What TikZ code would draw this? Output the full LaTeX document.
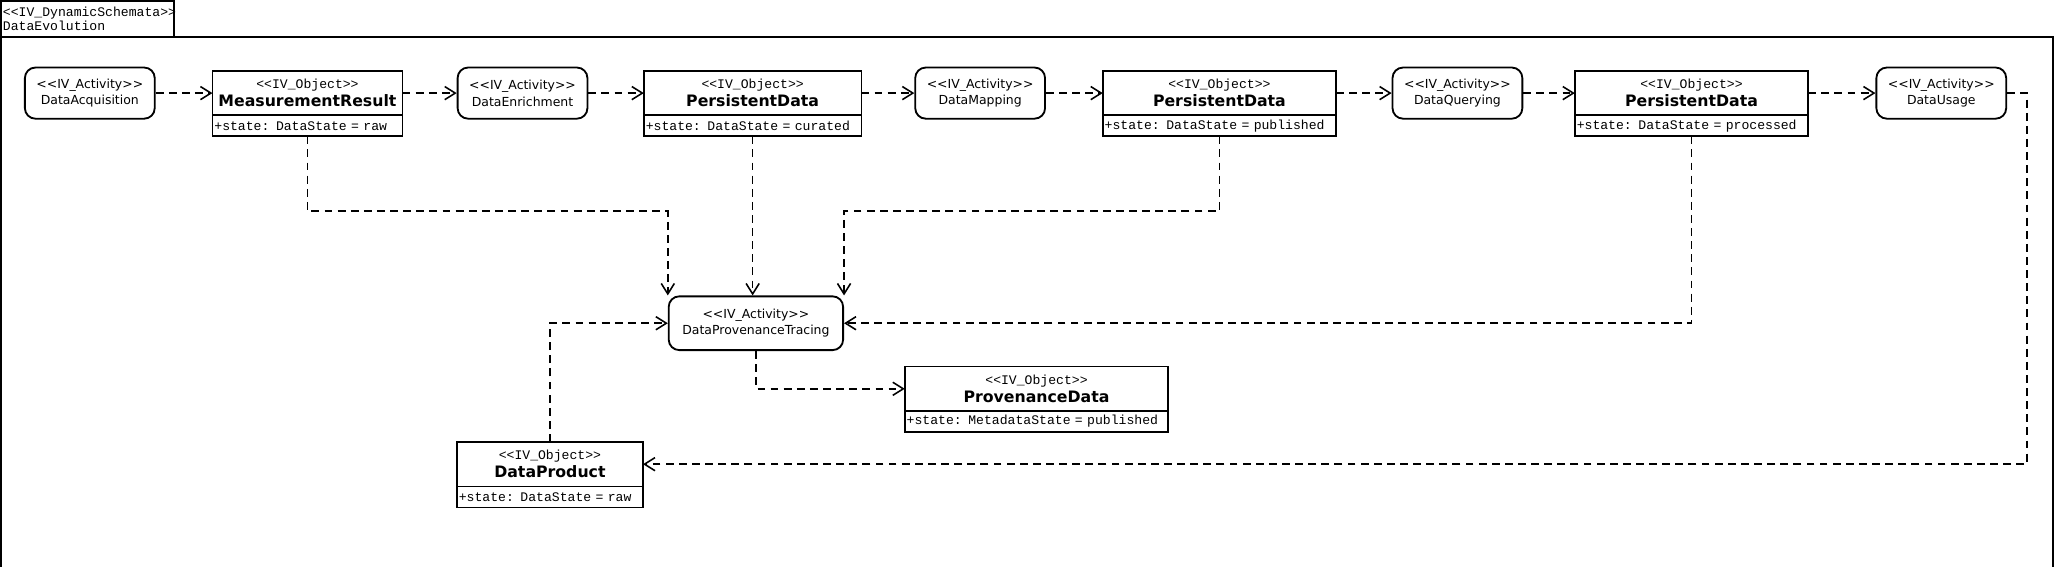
\documentclass[tikz,border=0pt]{standalone}
\usepackage{fontspec}
\setmainfont{DejaVu Sans}
\newfontfamily\umlmono{Liberation Mono}
\usetikzlibrary{arrows.meta}

\newcommand{\stereo}[1]{<\kern0pt<#1>\kern0pt>}
\newcommand{\monotext}{\umlmono\fontsize{10}{10.6}\selectfont}

\tikzset{
  activity/.style={draw, line width=1.4pt, rounded corners=8pt, minimum width=99pt, minimum height=39pt,
    inner sep=0pt, align=center, font=\fontsize{9.5}{12.7}\selectfont},
  objhead/.style={draw, line width=1.4pt, minimum height=34pt, inner sep=0pt, outer sep=0pt, align=center,
    font=\fontsize{12}{13.5}\selectfont},
  objattr/.style={draw, line width=1.4pt, anchor=north west, text width=#1, inner xsep=1.5pt,
    inner ysep=0pt, outer sep=0pt, minimum height=16pt, align=left, font=\monotext},
  dep/.style={line width=1.25pt, dash pattern=on 6pt off 4pt,
    -{Straight Barb[length=8pt, width=10pt, line width=1.2pt]}}
}

\begin{document}
\begin{tikzpicture}[x=1pt, y=-1pt]
\useasboundingbox (0,0) rectangle (1568,432);
\draw[line width=1.5pt] (0.75,28) rectangle (1566,440);
\node[draw, line width=1.5pt, anchor=north west, minimum height=27.25pt, text width=129pt, inner xsep=1.5pt,
  inner ysep=0pt, outer sep=0pt, align=left, font=\monotext] (title) at (0.75,0.75)
  {\mbox{\stereo{IV\_DynamicSchemata}}\\DataEvolution};

\node[activity] (acq) at (68.5,71) {\stereo{IV\_Activity}\\DataAcquisition};
\node[activity] (enr) at (398.5,71) {\stereo{IV\_Activity}\\DataEnrichment};
\node[activity] (map) at (747.5,71) {\stereo{IV\_Activity}\\DataMapping};
\node[activity] (qry) at (1111.5,71) {\stereo{IV\_Activity}\\DataQuerying};
\node[activity] (use) at (1480.5,71) {\stereo{IV\_Activity}\\DataUsage};
\node[activity, minimum width=133pt, minimum height=41pt] (dpt) at (576.5,246.5)
  {\stereo{IV\_Activity}\\DataProvenanceTracing};

\node[objhead, minimum width=145pt] (mrH) at (234.5,71) {{\monotext\stereo{IV\_Object}}\\\textbf{MeasurementResult}};
\node[objattr=142pt] (mrA) at (mrH.south west) {\mbox{+state: DataState = raw}};
\node[objhead, minimum width=166pt] (pd1H) at (574,71) {{\monotext\stereo{IV\_Object}}\\\textbf{PersistentData}};
\node[objattr=163pt] (pd1A) at (pd1H.south west) {\mbox{+state: DataState = curated}};
\node[objhead, minimum width=178pt] (pd2H) at (930,71) {{\monotext\stereo{IV\_Object}}\\\textbf{PersistentData}};
\node[objattr=175pt] (pd2A) at (pd2H.south west) {\mbox{+state: DataState = published}};
\node[objhead, minimum width=178pt] (pd3H) at (1290,71) {{\monotext\stereo{IV\_Object}}\\\textbf{PersistentData}};
\node[objattr=175pt] (pd3A) at (pd3H.south west) {\mbox{+state: DataState = processed}};
\node[objhead, minimum width=201pt] (provH) at (790.5,296.5) {{\monotext\stereo{IV\_Object}}\\\textbf{ProvenanceData}};
\node[objattr=198pt] (provA) at (provH.south west) {\mbox{+state: MetadataState = published}};
\node[objhead, minimum width=142pt] (dprodH) at (419.4,354) {{\monotext\stereo{IV\_Object}}\\\textbf{DataProduct}};
\node[objattr=139pt] (dprodA) at (dprodH.south west) {\mbox{+state: DataState = raw}};

\draw[dep] (acq) -- (mrH);
\draw[dep] (mrH) -- (enr);
\draw[dep] (enr) -- (pd1H);
\draw[dep] (pd1H) -- (map);
\draw[dep] (map) -- (pd2H);
\draw[dep] (pd2H) -- (qry);
\draw[dep] (qry) -- (pd3H);
\draw[dep] (pd3H) -- (use);

\draw[dep] (mrA.south) -- ++(0,57) -| (dpt.north west);
\draw[dep] (pd1A.south) -- (pd1A.south |- dpt.north);
\draw[dep] (pd2A.south) -- ++(0,57) -| (dpt.north east);
\draw[dep] (pd3A.south) |- (dpt.east);
\draw[dep] (use.east) -- ++(15,0) |- (dprodH.east);
\draw[dep] (dprodH.north) |- (dpt.west);
\draw[dep] (dpt.south) |- (provH.west);
\end{tikzpicture}
\end{document}
